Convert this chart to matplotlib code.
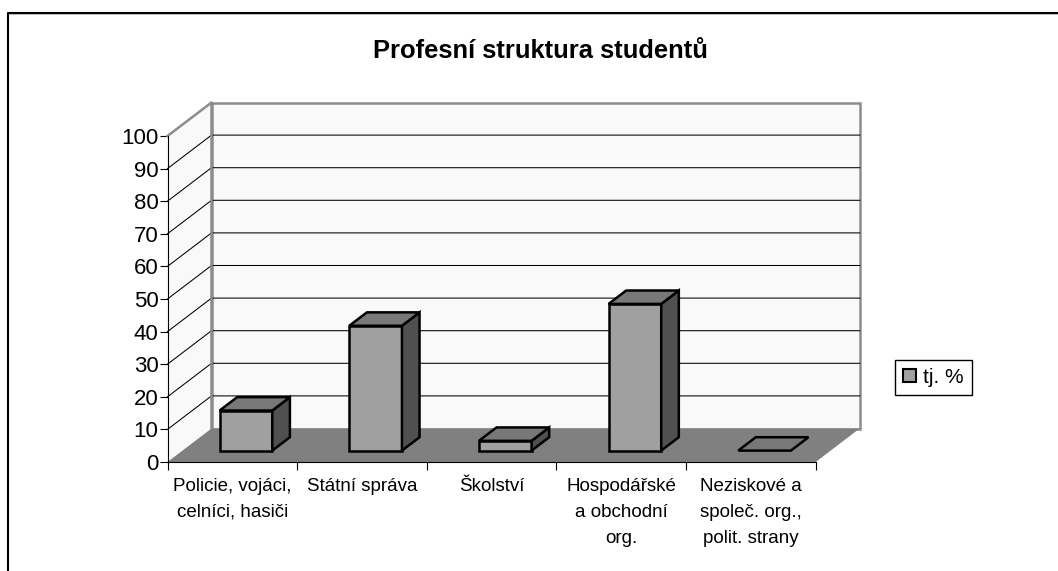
"""Profesni struktura studentu - Excel style 3D column chart drawn on a flat axes"""
import matplotlib
matplotlib.use('Agg')
import matplotlib.pyplot as plt
from matplotlib.patches import Polygon, Patch

plt.rcParams['font.family'] = ['Liberation Sans', 'DejaVu Sans']

title = 'Profesní struktura studentů'
categories = ['Policie, vojáci,\ncelníci, hasiči', 'Státní správa', 'Školství',
              'Hospodářské\na obchodní\norg.', 'Neziskové a\nspoleč. org.,\npolit. strany']
values = [12.3, 38.3, 3, 45, 0]
series_name = 'tj. %'
y_ticks = list(range(0, 101, 10))

W, H = 1058, 571
# front plane of the box in pixels
left, right, bottom, top = 167.5, 815.7, 462, 136
# depth of the box, in data units
dx = 44 / ((right - left) / 5)
dy = 33.5 / ((bottom - top) / 100)
bar_w = 0.406
bar_d0, bar_d1 = 0.34, 0.74  # bar front and back, as fraction of the box depth


def proj(x, y, d):
    return (x + d * dx, y + d * dy)


def poly(pts, **kw):
    ax.add_patch(Polygon(pts, closed=True, clip_on=False, **kw))


fig = plt.figure(figsize=(W / 100, H / 100), dpi=100)
ax = fig.add_axes([left / W, 1 - bottom / H, (right - left) / W, (bottom - top) / H])
ax.set_xlim(0, len(categories))
ax.set_ylim(0, 100)
ax.patch.set_visible(False)

# outer frame of the sheet
fig.add_artist(plt.Line2D([7.5 / W, 1], [1 - 14 / H, 1 - 14 / H], color='#c8c8c8', lw=0.75))
fig.add_artist(plt.Line2D([7.5 / W, 7.5 / W, 1], [0, 1 - 12.5 / H, 1 - 12.5 / H], color='black', lw=1.5))

# walls and floor
wall = '#f9f9f9'
edge = '#8c8c8c'
n = len(categories)
poly([proj(0, 0, 1), proj(n, 0, 1), proj(n, 100, 1), proj(0, 100, 1)], fc=wall, ec=edge, lw=1.8, zorder=1)
poly([proj(0, 0, 0), proj(0, 0, 1), proj(0, 100, 1), proj(0, 100, 0)], fc=wall, ec='none', zorder=1)
for v in y_ticks[1:-1]:
    px, py = zip(proj(0, v, 0), proj(0, v, 1), proj(n, v, 1))
    ax.plot(px, py, color='black', lw=0.75, clip_on=False, zorder=2)
px, py = zip(proj(0, 100, 0), proj(0, 100, 1), proj(0, 0, 1))
ax.plot(px, py, color=edge, lw=1.8, clip_on=False, zorder=3)
poly([proj(0, 0, 0), proj(n, 0, 0), proj(n, 0, 1), proj(0, 0, 1)], fc='#808080', ec='none', zorder=3)

# bars
for i, v in enumerate(values):
    x0 = i + (1 - bar_w) / 2 - 0.01
    x1 = x0 + bar_w
    style = dict(ec='black', lw=1.8, joinstyle='miter', zorder=4)
    if v > 0:
        poly([proj(x0, 0, bar_d0), proj(x1, 0, bar_d0), proj(x1, v, bar_d0), proj(x0, v, bar_d0)], fc='#a0a0a0', **style)
        poly([proj(x1, 0, bar_d0), proj(x1, 0, bar_d1), proj(x1, v, bar_d1), proj(x1, v, bar_d0)], fc='#505050', **style)
    poly([proj(x0, v, bar_d0), proj(x1, v, bar_d0), proj(x1, v, bar_d1), proj(x0, v, bar_d1)], fc='#787878', **style)

ax.spines['top'].set_visible(False)
ax.spines['right'].set_visible(False)
for s in ['left', 'bottom']:
    ax.spines[s].set_zorder(5)
ax.set_yticks(y_ticks)
ax.set_xticks(range(n + 1))
ax.set_xticklabels([])
ax.tick_params(axis='y', labelsize=16, length=6, pad=0.5)
ax.tick_params(axis='x', length=6)
for i, c in enumerate(categories):
    ax.annotate(c, (i + 0.5, 0), xytext=(0, -11.5), textcoords='offset points', ha='center', va='top',
                fontsize=13.5, linespacing=1.68, annotation_clip=False)

fig.text(540 / W, 1 - 51 / H, title, fontsize=18.4, fontweight='bold', ha='center', va='center')

handle = Patch(fc='#a0a0a0', ec='black', lw=1.5)
fig.legend([handle], [series_name], loc='center left', bbox_to_anchor=(895 / W, 1 - 377.5 / H),
           fontsize=15, fancybox=False, framealpha=1, edgecolor='black', handlelength=0.62,
           handleheight=0.62, handletextpad=0.33, borderpad=0.4, borderaxespad=0)

fig.savefig('out.png', dpi=100)
